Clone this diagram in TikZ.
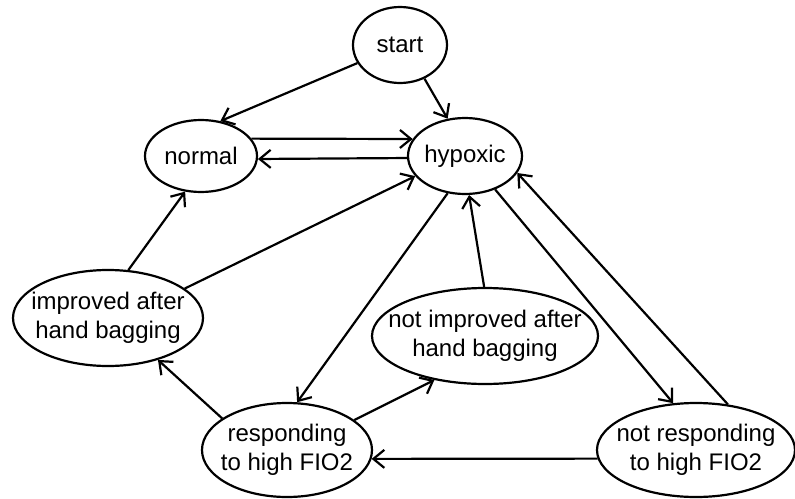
\documentclass[tikz,border=0pt]{standalone}
\usepackage{fontspec}
\setmainfont{Liberation Sans}
\usetikzlibrary{shapes.geometric,arrows.meta}

\begin{document}
\begin{tikzpicture}[x=1pt,y=-1pt,
  every node/.style={font=\fontsize{24}{29}\selectfont},
  every label/.style={align=center,inner sep=0pt},
  state/.style={draw,ellipse,line width=2.2pt,inner sep=0pt},
  arr/.style={line width=2.2pt,-{Straight Barb[length=11pt,width=18pt,line width=2.2pt]}}]
\useasboundingbox (0,0) rectangle (795,498);

\node[state,minimum width=94,minimum height=76,label=center:start] (start) at (400,45) {};
\node[state,minimum width=112,minimum height=72,label=center:normal] (normal) at (201,156) {};
\node[state,minimum width=114,minimum height=76,label=center:hypoxic] (hypoxic) at (465,156) {};
\node[state,minimum width=190,minimum height=96,
  label={center:{improved after\\hand bagging}}] (improved) at (108,318) {};
\node[state,minimum width=226,minimum height=96,
  label={center:{not improved after\\hand bagging}}] (notimproved) at (485,336) {};
\node[state,minimum width=170,minimum height=94,
  label={center:{responding\\to high FIO2}}] (responding) at (287,450) {};
\node[state,minimum width=198,minimum height=94,
  label={center:{not responding\\to high FIO2}}] (notresponding) at (696,450) {};

\draw[arr] (start.203) -- (normal.61);
\draw[arr] (start.-54) -- (hypoxic.115);
\draw[arr] (normal.19) -- (hypoxic.162);
\draw[arr] (hypoxic.182) -- (normal.-3);
\draw[arr] (improved.67) -- (normal.246);
\draw[arr] (improved.21) -- (hypoxic.202);
\draw[arr] (notimproved.91) -- (hypoxic.276);
\draw[arr] (hypoxic.245) -- (responding.78);
\draw[arr] (hypoxic.312) -- (notresponding.116);
\draw[arr] (notresponding.55) -- (hypoxic.342);
\draw[arr] (notresponding.185) -- (responding.354);
\draw[arr] (responding.154) -- (improved.320);
\draw[arr] (responding.24) -- (notimproved.221);
\end{tikzpicture}
\end{document}
